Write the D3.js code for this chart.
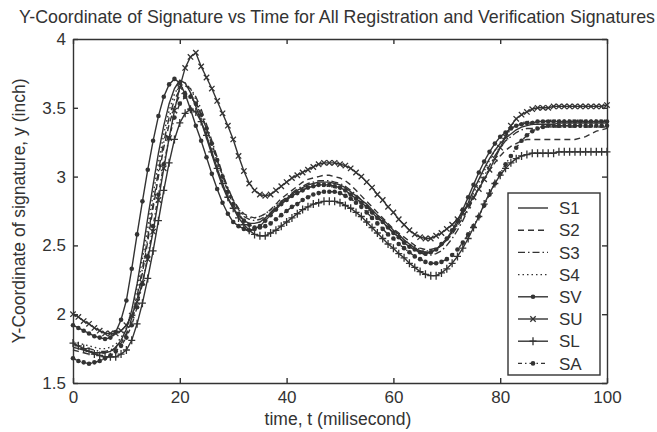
<!DOCTYPE html>
<html>
<head>
<meta charset="utf-8">
<script src="https://cdn.jsdelivr.net/npm/d3@7"></script>
<style>
  body { margin: 0; background: #fff; }
  svg text { font-family: "Liberation Sans", Arial, sans-serif; fill: #333; }
</style>
</head>
<body>
<svg width="657" height="432"></svg>
<script>
// sample times (milisecond)
var time = d3.range(0, 101);

// y-coordinate values, one per time sample
var S1 = [1.76,1.75,1.74,1.73,1.72,1.72,1.72,1.73,1.76,1.81,1.89,2.03,2.22,2.45,2.70,2.94,3.17,3.37,3.53,3.64,3.70,3.68,3.61,3.51,3.40,3.28,3.16,3.04,2.93,2.84,2.77,2.72,2.68,2.66,2.66,2.67,2.70,2.73,2.77,2.81,2.84,2.87,2.90,2.92,2.94,2.95,2.96,2.96,2.96,2.95,2.94,2.92,2.89,2.86,2.83,2.80,2.76,2.72,2.69,2.65,2.61,2.58,2.54,2.51,2.48,2.46,2.45,2.45,2.47,2.50,2.54,2.60,2.66,2.73,2.81,2.90,2.98,3.06,3.13,3.19,3.24,3.28,3.31,3.34,3.36,3.37,3.38,3.38,3.38,3.38,3.38,3.39,3.39,3.39,3.39,3.39,3.39,3.39,3.39,3.39,3.39];
var S2 = [1.74,1.73,1.72,1.71,1.71,1.71,1.72,1.73,1.75,1.79,1.85,1.95,2.10,2.30,2.53,2.77,3.00,3.21,3.38,3.51,3.59,3.62,3.60,3.54,3.45,3.35,3.24,3.12,3.01,2.91,2.83,2.77,2.73,2.71,2.70,2.71,2.73,2.76,2.80,2.84,2.87,2.90,2.93,2.96,2.98,2.99,3.00,3.01,3.01,3.00,2.99,2.97,2.94,2.90,2.86,2.82,2.78,2.74,2.70,2.66,2.62,2.59,2.56,2.53,2.50,2.48,2.47,2.47,2.48,2.50,2.54,2.58,2.64,2.70,2.77,2.84,2.91,2.98,3.05,3.10,3.15,3.19,3.22,3.24,3.26,3.27,3.27,3.27,3.27,3.27,3.27,3.27,3.27,3.27,3.27,3.28,3.29,3.31,3.33,3.34,3.35];
var S3 = [1.78,1.77,1.76,1.75,1.74,1.73,1.73,1.74,1.76,1.80,1.86,1.97,2.13,2.33,2.56,2.80,3.04,3.25,3.43,3.56,3.63,3.66,3.64,3.58,3.49,3.38,3.26,3.14,3.02,2.92,2.83,2.76,2.71,2.69,2.68,2.69,2.71,2.74,2.78,2.82,2.85,2.88,2.91,2.93,2.95,2.96,2.97,2.97,2.97,2.96,2.95,2.93,2.90,2.87,2.83,2.79,2.75,2.71,2.67,2.63,2.59,2.56,2.52,2.49,2.47,2.45,2.43,2.43,2.44,2.46,2.50,2.55,2.61,2.68,2.76,2.84,2.92,3.00,3.08,3.15,3.21,3.26,3.29,3.32,3.34,3.35,3.35,3.36,3.36,3.36,3.36,3.36,3.36,3.36,3.36,3.36,3.36,3.36,3.36,3.36,3.36];
var S4 = [1.80,1.79,1.78,1.77,1.76,1.75,1.75,1.76,1.78,1.83,1.90,2.02,2.19,2.40,2.63,2.87,3.10,3.31,3.48,3.60,3.67,3.68,3.64,3.56,3.46,3.35,3.23,3.11,3.00,2.90,2.82,2.76,2.72,2.70,2.70,2.71,2.73,2.76,2.79,2.82,2.85,2.87,2.89,2.91,2.92,2.93,2.93,2.93,2.93,2.92,2.91,2.89,2.87,2.84,2.81,2.77,2.73,2.70,2.66,2.63,2.60,2.57,2.54,2.51,2.49,2.47,2.46,2.46,2.47,2.50,2.54,2.59,2.65,2.72,2.80,2.88,2.96,3.04,3.12,3.19,3.25,3.30,3.34,3.37,3.39,3.40,3.40,3.40,3.40,3.41,3.41,3.41,3.41,3.41,3.41,3.41,3.41,3.41,3.41,3.41,3.41];
var SV = [1.92,1.90,1.88,1.86,1.84,1.83,1.82,1.83,1.87,1.96,2.10,2.33,2.58,2.82,3.05,3.26,3.44,3.58,3.67,3.71,3.68,3.60,3.49,3.37,3.26,3.14,3.02,2.91,2.81,2.73,2.67,2.64,2.62,2.61,2.62,2.64,2.68,2.72,2.76,2.80,2.83,2.86,2.88,2.90,2.92,2.93,2.94,2.94,2.94,2.93,2.92,2.90,2.87,2.84,2.81,2.78,2.74,2.70,2.67,2.63,2.59,2.56,2.52,2.49,2.47,2.45,2.44,2.45,2.47,2.51,2.55,2.61,2.68,2.76,2.85,2.94,3.03,3.11,3.18,3.24,3.29,3.32,3.35,3.37,3.38,3.39,3.39,3.40,3.40,3.40,3.40,3.40,3.40,3.40,3.40,3.40,3.40,3.40,3.40,3.40,3.40];
var SU = [2.00,1.98,1.95,1.93,1.90,1.88,1.86,1.86,1.86,1.88,1.92,1.99,2.09,2.23,2.40,2.60,2.83,3.06,3.28,3.48,3.65,3.79,3.87,3.90,3.80,3.72,3.64,3.55,3.46,3.37,3.27,3.15,3.04,2.95,2.90,2.87,2.86,2.87,2.90,2.93,2.96,2.99,3.01,3.03,3.05,3.07,3.09,3.10,3.10,3.10,3.09,3.08,3.06,3.03,3.00,2.96,2.92,2.87,2.83,2.78,2.74,2.69,2.65,2.61,2.58,2.56,2.55,2.55,2.57,2.59,2.62,2.65,2.69,2.74,2.79,2.85,2.91,2.98,3.05,3.13,3.21,3.29,3.37,3.42,3.45,3.47,3.49,3.50,3.50,3.50,3.51,3.51,3.51,3.51,3.51,3.51,3.51,3.51,3.51,3.51,3.52];
var SL = [1.79,1.77,1.75,1.73,1.71,1.70,1.69,1.69,1.69,1.71,1.74,1.81,1.93,2.08,2.26,2.46,2.68,2.90,3.10,3.27,3.39,3.46,3.49,3.47,3.40,3.30,3.18,3.06,2.95,2.85,2.77,2.70,2.65,2.61,2.58,2.57,2.57,2.59,2.61,2.64,2.67,2.70,2.73,2.76,2.78,2.80,2.81,2.82,2.82,2.82,2.81,2.79,2.77,2.74,2.71,2.67,2.63,2.59,2.55,2.51,2.48,2.44,2.41,2.37,2.34,2.31,2.29,2.28,2.28,2.30,2.33,2.37,2.42,2.48,2.55,2.63,2.71,2.80,2.88,2.95,3.01,3.06,3.10,3.13,3.15,3.16,3.17,3.17,3.17,3.17,3.17,3.18,3.18,3.18,3.18,3.18,3.18,3.18,3.18,3.18,3.18];
var SA = [1.68,1.66,1.65,1.64,1.65,1.66,1.68,1.70,1.73,1.77,1.83,1.92,2.05,2.22,2.42,2.64,2.87,3.09,3.28,3.43,3.53,3.58,3.58,3.53,3.45,3.35,3.24,3.12,3.00,2.89,2.80,2.73,2.68,2.65,2.63,2.63,2.64,2.66,2.69,2.72,2.75,2.78,2.80,2.83,2.85,2.87,2.88,2.89,2.89,2.89,2.88,2.86,2.84,2.81,2.78,2.74,2.70,2.66,2.62,2.58,2.55,2.51,2.48,2.45,2.42,2.40,2.38,2.37,2.37,2.38,2.40,2.43,2.47,2.52,2.58,2.64,2.71,2.79,2.87,2.95,3.02,3.09,3.15,3.21,3.26,3.30,3.33,3.35,3.36,3.37,3.37,3.37,3.37,3.37,3.37,3.37,3.37,3.37,3.37,3.37,3.37];

var seriesNames = ["S1", "S2", "S3", "S4", "SV", "SU", "SL", "SA"];
var seriesValues = [S1, S2, S3, S4, SV, SU, SL, SA];
var xTicks = [0, 20, 40, 60, 80, 100];
var yTicks = [1.5, 2, 2.5, 3, 3.5, 4];

// matlab-ish line styles
var dashes = { S1: null, S2: "6,4", S3: "7,3,1.5,3", S4: "1.5,3", SV: null, SU: null, SL: null, SA: "4,3,1.5,3" };
var markers = { SV: "dot", SU: "x", SL: "plus", SA: "dot" };
var ink = "#333";

var svg = d3.select("svg");
var margin = {top: 39, right: 50, bottom: 49, left: 73},
    width = 657 - margin.left - margin.right,
    height = 432 - margin.top - margin.bottom;

var x = d3.scaleLinear().domain([0, 100]).range([0, width]);
var y = d3.scaleLinear().domain([1.5, 4]).range([height, 0]);

var g = svg.append("g")
  .attr("transform", "translate(" + margin.left + "," + margin.top + ")");

// title + axis labels
svg.append("text")
  .attr("x", 337).attr("y", 23)
  .attr("text-anchor", "middle")
  .style("font-size", "17.8px")
  .text("Y-Coordinate of Signature vs Time for All Registration and Verification Signatures");

svg.append("text")
  .attr("x", 338).attr("y", 425)
  .attr("text-anchor", "middle")
  .style("font-size", "17.5px")
  .text("time, t (milisecond)");

svg.append("text")
  .attr("transform", "translate(25," + (margin.top + height / 2) + ") rotate(-90)")
  .attr("text-anchor", "middle")
  .style("font-size", "17.5px")
  .text("Y-Coordinate of signature, y (inch)");

// axes, ticks pointing inwards
var fmt = d3.format("~g");
function styleAxis(sel) {
  sel.selectAll("path, line").attr("stroke", ink).attr("stroke-width", 1.4);
  sel.selectAll("text").style("font-size", "17px").attr("fill", "#333");
}
g.append("g").attr("transform", "translate(0," + height + ")")
  .call(d3.axisBottom(x).tickValues(xTicks).tickFormat(fmt).tickSizeInner(-5).tickSizeOuter(0).tickPadding(8))
  .call(styleAxis);
g.append("g")
  .call(d3.axisTop(x).tickValues(xTicks).tickFormat("").tickSizeInner(-5).tickSizeOuter(0))
  .call(styleAxis);
g.append("g")
  .call(d3.axisLeft(y).tickValues(yTicks).tickFormat(fmt).tickSizeInner(-5).tickSizeOuter(0).tickPadding(7))
  .call(styleAxis);
g.append("g").attr("transform", "translate(" + width + ",0)")
  .call(d3.axisRight(y).tickValues(yTicks).tickFormat("").tickSizeInner(-5).tickSizeOuter(0))
  .call(styleAxis);

function drawMarker(sel, type) {
  if (type === "dot") {
    sel.append("circle").attr("r", 2.3).attr("fill", ink);
  } else if (type === "x") {
    sel.append("path").attr("d", "M-2.7,-2.7L2.7,2.7M-2.7,2.7L2.7,-2.7")
      .attr("stroke", ink).attr("stroke-width", 1.3);
  } else if (type === "plus") {
    sel.append("path").attr("d", "M-3.5,0L3.5,0M0,-4L0,4")
      .attr("stroke", ink).attr("stroke-width", 1.3);
  }
}

var line = d3.line()
  .x(function (d, i) { return x(time[i]); })
  .y(function (d) { return y(d); });

seriesNames.forEach(function (name, k) {
  var vals = seriesValues[k];
  g.append("path")
    .datum(vals)
    .attr("d", line)
    .attr("fill", "none")
    .attr("stroke", ink)
    .attr("stroke-width", 1.4)
    .attr("stroke-dasharray", dashes[name]);
  if (markers[name]) {
    g.append("g").selectAll("g")
      .data(vals)
      .enter().append("g")
      .attr("transform", function (d, i) { return "translate(" + x(time[i]) + "," + y(d) + ")"; })
      .each(function () { drawMarker(d3.select(this), markers[name]); });
  }
});

// legend
var lg = svg.append("g").attr("transform", "translate(508,193)");
lg.append("rect").attr("width", 92).attr("height", 182)
  .attr("fill", "#fff").attr("stroke", ink).attr("stroke-width", 1.4);
seriesNames.forEach(function (name, i) {
  var row = lg.append("g").attr("transform", "translate(0," + (15 + i * 22.2) + ")");
  row.append("line").attr("x1", 10).attr("x2", 40)
    .attr("stroke", ink).attr("stroke-width", 1.4)
    .attr("stroke-dasharray", dashes[name]);
  if (markers[name]) {
    var m = row.append("g").attr("transform", "translate(25,0)");
    drawMarker(m, markers[name]);
  }
  row.append("text").attr("x", 51).attr("dy", "0.36em")
    .style("font-size", "17px").text(name);
});
</script>
</body>
</html>
